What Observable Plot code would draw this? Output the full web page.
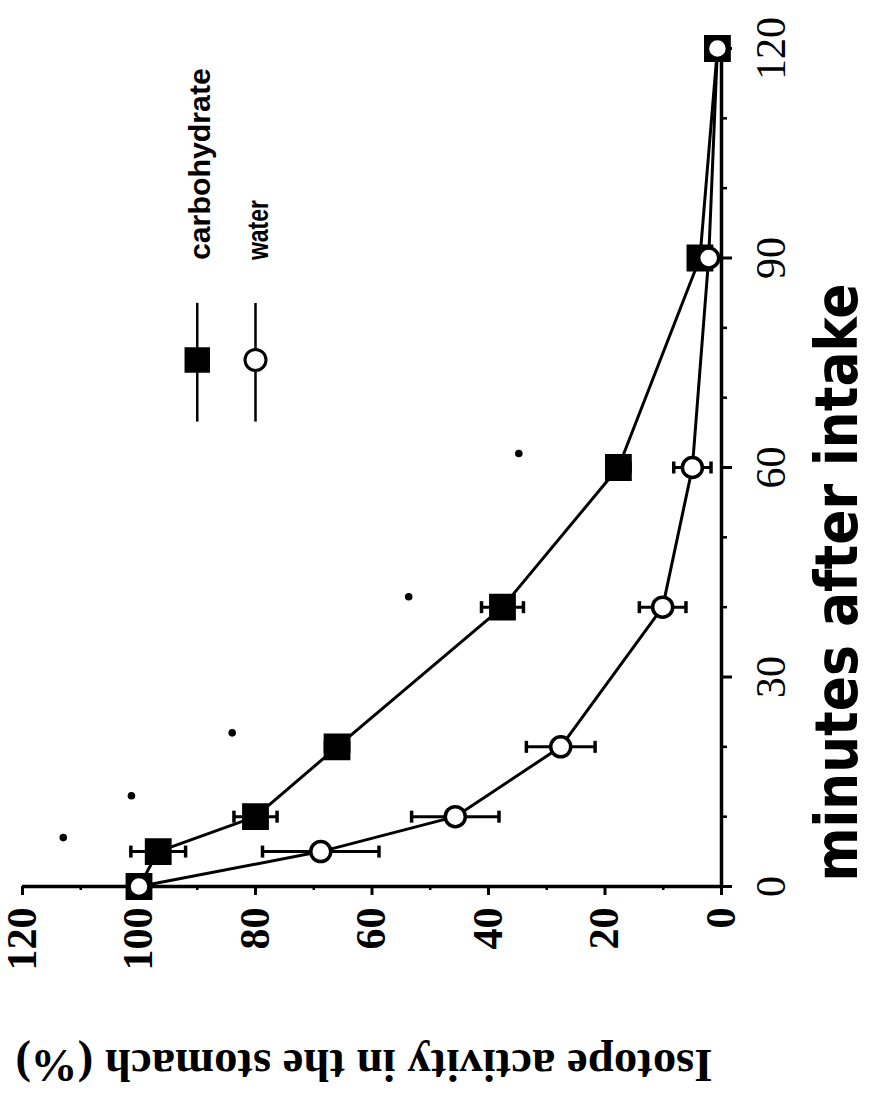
<!DOCTYPE html>
<html>
<head>
<meta charset="utf-8">
<script src="https://cdn.jsdelivr.net/npm/d3@7"></script>
<script src="https://cdn.jsdelivr.net/npm/@observablehq/plot@0.6"></script>
<style>
  html, body { margin: 0; padding: 0; background: #ffffff; }
  #chart { width: 880px; height: 1101px; }
</style>
</head>
<body>
<div id="chart"></div>
<script>
// ---- Data ----
const minutes = [0, 5, 10, 20, 40, 60, 90, 120];
const carbohydrate = [100, 96.7, 80, 66, 37.6, 17.7, 3.7, 0.7];
const carbohydrateSE = [0, 4.7, 3.7, 2, 3.6, 2, 1, 0];
const water = [100, 68.8, 45.7, 27.6, 10.1, 5.0, 2.2, 0.7];
const waterSE = [0, 10, 7.5, 5.9, 4, 3.2, 1.5, 0];
const sigMinutes = [7, 13, 22, 41.5, 62];
const sigActivity = [113, 101.3, 84, 53.7, 34.8];
const activityTicks = [120, 100, 80, 60, 40, 20, 0];
const activityMinorTicks = [110, 90, 70, 50, 30, 10];
const minuteTicks = [0, 30, 60, 90, 120];
const minuteMinorTicks = [10, 20, 40, 50, 70, 80, 100, 110];
const seriesNames = ["carbohydrate", "water"];
const xTitle = "Isotope activity in the stomach (%)";
const yTitle = "minutes after intake";

// ---- Tables built from the arrays ----
const carbRows = minutes.map((m, i) => ({series: seriesNames[0], minutes: m, activity: carbohydrate[i], se: carbohydrateSE[i]}));
const waterRows = minutes.map((m, i) => ({series: seriesNames[1], minutes: m, activity: water[i], se: waterSE[i]}));
const rows = carbRows.concat(waterRows);
const errRows = rows.filter(d => d.se > 0);
const sigRows = sigMinutes.map((m, i) => ({minutes: m, activity: sigActivity[i]}));

// ---- Layout (legend placement in data units) ----
const legendX = [90, 80];
const legend = seriesNames.map((s, i) => ({series: s, x: legendX[i]}));
const legendSymbolY = 75.4, legendLineY1 = 66.5, legendLineY2 = 83.5, legendTextY = 89.7;

const capSymbol = {
  draw(context, size) {
    const r = Math.sqrt(size / Math.PI);
    context.moveTo(0, -r);
    context.lineTo(0, r);
  }
};

const serif = "'Liberation Serif', 'DejaVu Serif', serif";
const sans = "'Liberation Sans', Arial, sans-serif";
const narrow = "'Liberation Sans Narrow', 'DejaVu Sans Condensed', 'Liberation Sans', sans-serif";

const chart = Plot.plot({
  width: 880,
  height: 1101,
  marginLeft: 22,
  marginRight: 159,
  marginTop: 48,
  marginBottom: 215,
  style: {background: "#ffffff", color: "#000", overflow: "visible"},
  x: {domain: [120, 0], axis: null},
  y: {domain: [0, 120], axis: null},
  marks: [
    // axes lines
    Plot.ruleY([0], {strokeWidth: 3.5, stroke: "#000"}),
    Plot.ruleX([0], {strokeWidth: 3.5, stroke: "#000"}),
    // bottom (activity) ticks
    Plot.axisX({anchor: "bottom", ticks: activityTicks, tickSize: 9, tickFormat: () => "", strokeWidth: 3, label: null}),
    Plot.axisX({anchor: "bottom", ticks: activityMinorTicks, tickSize: 4, tickFormat: () => "", strokeWidth: 2.5, label: null}),
    // right (minutes) ticks
    Plot.axisY({anchor: "right", ticks: minuteTicks, tickSize: 10, tickFormat: () => "", strokeWidth: 3, label: null}),
    Plot.axisY({anchor: "right", ticks: minuteMinorTicks, tickSize: 5, tickFormat: () => "", strokeWidth: 2.5, label: null}),
    // tick labels
    Plot.text(activityTicks, {x: d => d, y: () => 0, text: d => String(d), rotate: -90, textAnchor: "end", lineAnchor: "middle", dy: 21, fontSize: 42, fontWeight: "bold", fontFamily: serif, fill: "#000"}),
    Plot.text(minuteTicks, {x: () => 0, y: d => d, text: d => String(d), rotate: -90, textAnchor: "middle", lineAnchor: "middle", dx: 50, fontSize: 42, fontFamily: serif, fill: "#000"}),
    // axis titles
    Plot.text([yTitle], {frameAnchor: "right", text: d => d, rotate: -90, textAnchor: "middle", lineAnchor: "middle", dx: 117, dy: 115, fontSize: 58, fontWeight: "bold", fontFamily: narrow, fill: "#000"}),
    Plot.text([xTitle], {frameAnchor: "bottom", text: d => d, rotate: 180, textAnchor: "middle", lineAnchor: "middle", dx: -8, dy: 178, fontSize: 46, fontWeight: "bold", fontFamily: serif, fill: "#000"}),
    // data lines
    Plot.line(rows, {x: "activity", y: "minutes", z: "series", stroke: "#000", strokeWidth: 3}),
    // error bars
    Plot.ruleY(errRows, {y: "minutes", x1: d => d.activity - d.se, x2: d => d.activity + d.se, stroke: "#000", strokeWidth: 3}),
    Plot.dot(errRows, {x: d => d.activity - d.se, y: "minutes", symbol: capSymbol, r: 6, fill: "none", stroke: "#000", strokeWidth: 3.5}),
    Plot.dot(errRows, {x: d => d.activity + d.se, y: "minutes", symbol: capSymbol, r: 6, fill: "none", stroke: "#000", strokeWidth: 3.5}),
    // markers
    Plot.dot(carbRows, {x: "activity", y: "minutes", symbol: "square", r: 14, fill: "#000", stroke: "#000", strokeWidth: 2}),
    Plot.dot(waterRows, {x: "activity", y: "minutes", symbol: "circle", r: 10, fill: "#fff", stroke: "#000", strokeWidth: 3.5}),
    // significance markers
    Plot.dot(sigRows, {x: "activity", y: "minutes", r: 3.8, fill: "#000"}),
    // legend
    Plot.ruleX(legend, {x: "x", y1: legendLineY1, y2: legendLineY2, stroke: "#000", strokeWidth: 2.5}),
    Plot.dot(legend.slice(0, 1), {x: "x", y: () => legendSymbolY, symbol: "square", r: 13.5, fill: "#000", stroke: "#000", strokeWidth: 1.5}),
    Plot.dot(legend.slice(1), {x: "x", y: () => legendSymbolY, symbol: "circle", r: 10.5, fill: "#fff", stroke: "#000", strokeWidth: 3}),
    Plot.text(legend, {x: "x", y: () => legendTextY, text: "series", rotate: -90, textAnchor: "start", lineAnchor: "middle", dx: 3, fontSize: 29, fontWeight: "bold", fontFamily: sans, fill: "#000"})
  ]
});

// stretch titles / legend labels to the measured lengths
const lengths = {};
lengths[yTitle] = 598;
lengths[xTitle] = 697;
lengths[seriesNames[0]] = 192;
lengths[seriesNames[1]] = 60;
chart.querySelectorAll("text").forEach(t => {
  const L = lengths[t.textContent];
  if (L) {
    t.setAttribute("textLength", L);
    t.setAttribute("lengthAdjust", "spacingAndGlyphs");
  }
});

document.getElementById("chart").appendChild(chart);
</script>
</body>
</html>
